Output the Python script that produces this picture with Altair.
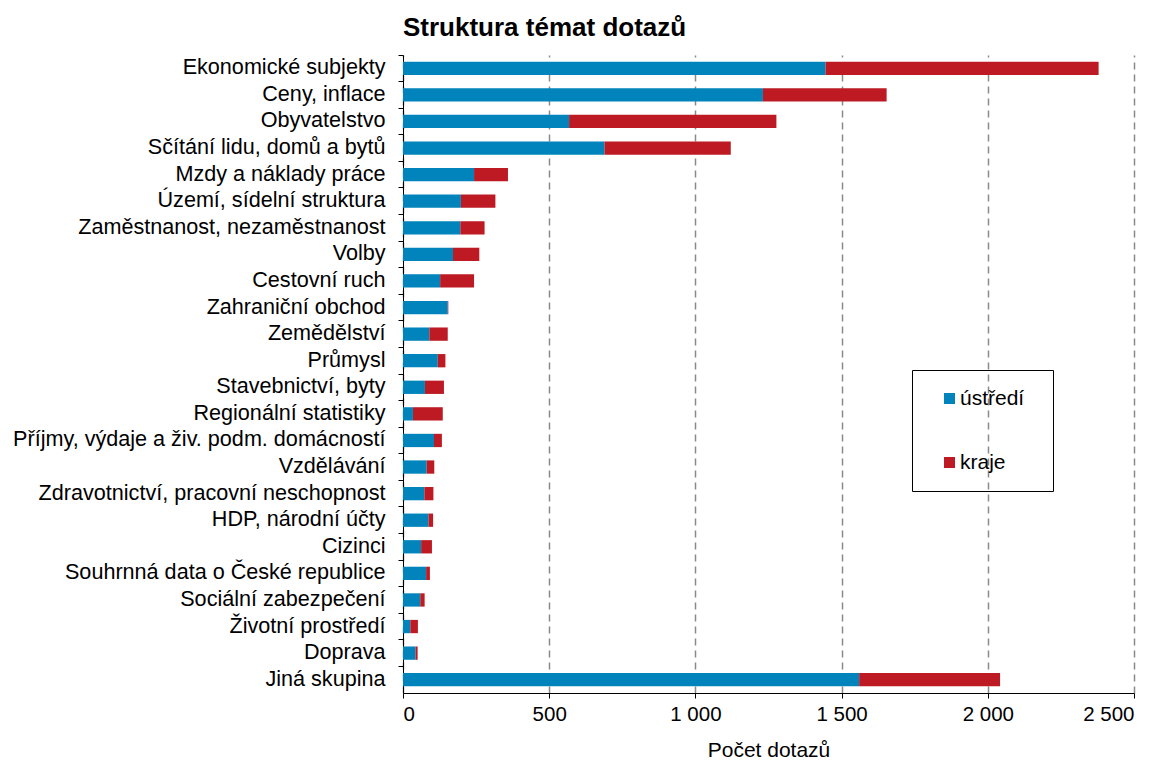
import altair as alt
import pandas as pd

categories = [
    "Ekonomické subjekty", "Ceny, inflace", "Obyvatelstvo", "Sčítání lidu, domů a bytů",
    "Mzdy a náklady práce", "Území, sídelní struktura", "Zaměstnanost, nezaměstnanost",
    "Volby", "Cestovní ruch", "Zahraniční obchod", "Zemědělství", "Průmysl",
    "Stavebnictví, byty", "Regionální statistiky", "Příjmy, výdaje a živ. podm. domácností",
    "Vzdělávání", "Zdravotnictví, pracovní neschopnost", "HDP, národní účty", "Cizinci",
    "Souhrnná data o České republice", "Sociální zabezpečení", "Životní prostředí",
    "Doprava", "Jiná skupina",
]
ustredi = [1445, 1231, 568, 689, 243, 198, 196, 171, 127, 153, 90, 119, 75, 34, 106,
           81, 73, 87, 62, 79, 59, 25, 43, 1560]
kraje = [934, 423, 709, 432, 116, 118, 83, 90, 116, 2, 63, 26, 65, 102, 27,
         26, 31, 16, 37, 13, 15, 26, 7, 482]
series = ["ústředí", "kraje"]
colors = ["#0084BB", "#BE1A23"]

rows = []
for c, u, k in zip(categories, ustredi, kraje):
    rows.append({"tema": c, "skupina": series[0], "pocet": u, "poradi": 0})
    rows.append({"tema": c, "skupina": series[1], "pocet": k, "poradi": 1})
df = pd.DataFrame(rows)

FONT = "Liberation Sans"

chart = alt.Chart(df).mark_bar(size=13.3).encode(
    y=alt.Y("tema:N", sort=categories, title=None,
            scale=alt.Scale(paddingInner=0, paddingOuter=0),
            axis=alt.Axis(bandPosition=0, tickSize=5, tickColor="#000", domainColor="#000",
                          labelFontSize=21.6, labelFont=FONT, labelColor="#000",
                          labelPadding=13, labelLimit=500, grid=False)),
    x=alt.X("pocet:Q", stack="zero", title="Počet dotazů",
            scale=alt.Scale(domain=[0, 2500], nice=False),
            axis=alt.Axis(values=[0, 500, 1000, 1500, 2000, 2500],
                          labelExpr="replace(format(datum.value, ','), ',', ' ')",
                          tickSize=5, tickColor="#000", domainColor="#000",
                          labelFontSize=20.5, labelFont=FONT, labelColor="#000", labelPadding=6,
                          titleFontSize=21, titleFont=FONT, titleFontWeight="normal",
                          titleColor="#000", titlePadding=15,
                          grid=True, gridDash=[7, 5], gridColor="#8a8a8a", gridWidth=1.5)),
    color=alt.Color("skupina:N", sort=series,
                    scale=alt.Scale(domain=series, range=colors),
                    legend=alt.Legend(title="\u00a0", titleOrient="right", titlePadding=11,
                                      titleFontSize=21, titleFont=FONT,
                                      orient="none", legendX=509, legendY=315,
                                      strokeColor="#000", padding=18, symbolOffset=9,
                                      rowPadding=42, symbolType="square", symbolSize=121,
                                      symbolStrokeWidth=0, labelFontSize=21, labelFont=FONT,
                                      labelColor="#000", labelOffset=0)),
    order=alt.Order("poradi:Q"),
).properties(
    width=731,
    height=638,
    title=alt.TitleParams("Struktura témat dotazů", anchor="start", frame="group",
                          fontSize=26, font=FONT, fontWeight="bold", color="#000", offset=14),
    autosize=alt.AutoSizeParams(type="none"),
    padding={"left": 395, "top": 47, "right": 21, "bottom": 70},
).configure_view(stroke=None)

chart.save("out.html", embed_options={"renderer": "svg", "actions": False})
